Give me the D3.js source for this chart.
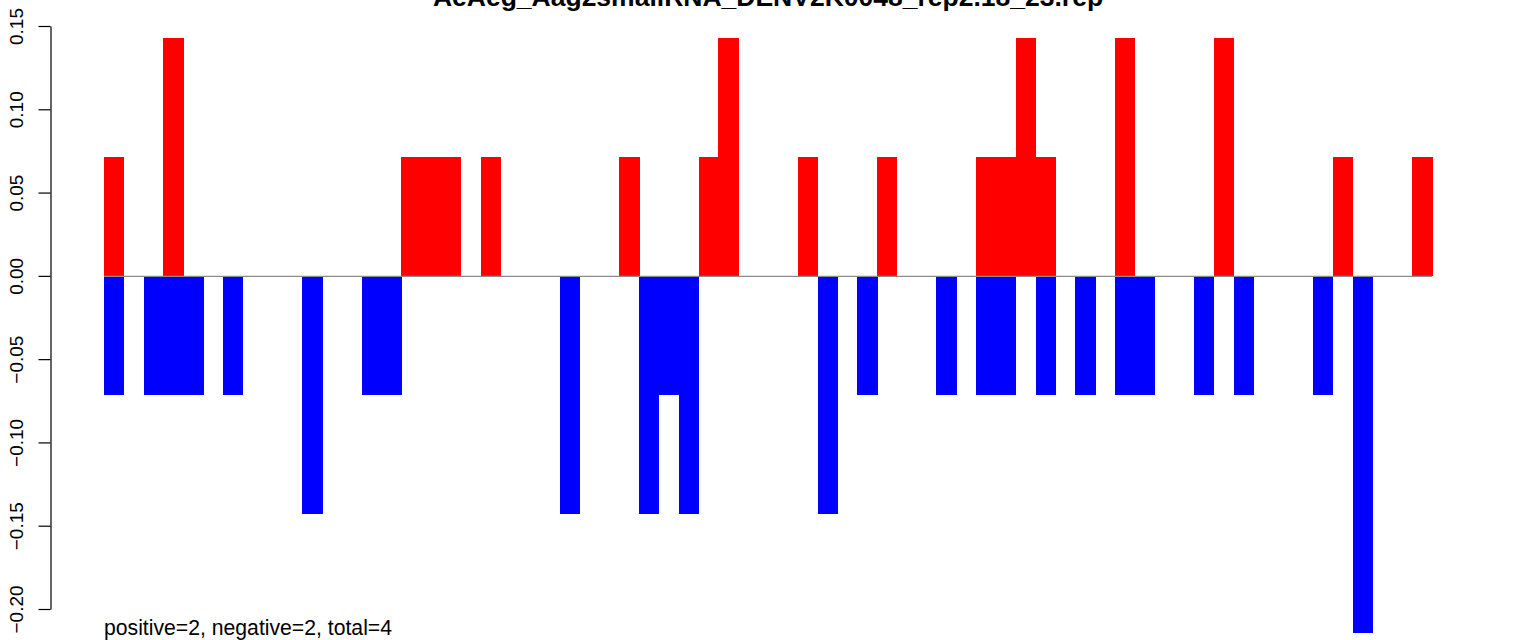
<!DOCTYPE html>
<html>
<head>
<meta charset="utf-8">
<script src="https://cdn.jsdelivr.net/npm/d3@7"></script>
<style>
  html, body { margin: 0; padding: 0; background: #fff; }
  svg { display: block; font-family: "Liberation Sans", Arial, sans-serif; }
</style>
</head>
<body>
<svg id="chart" width="1533" height="640"></svg>
<script>
// ---- data ----
const title = "AeAeg_Aag2smallRNA_DENV2K0048_rep2.18_23.rep";
const footnote = "positive=2, negative=2, total=4";
const positions = d3.range(0, 67); // bar index 0..66
const positiveValues = [
  0.0714, 0, 0, 0.1429, 0, 0, 0, 0, 0, 0,
  0, 0, 0, 0, 0, 0.0714, 0.0714, 0.0714, 0, 0.0714,
  0, 0, 0, 0, 0, 0, 0.0714, 0, 0, 0,
  0.0714, 0.1429, 0, 0, 0, 0.0714, 0, 0, 0, 0.0714,
  0, 0, 0, 0, 0.0714, 0.0714, 0.1429, 0.0714, 0, 0,
  0, 0.1429, 0, 0, 0, 0, 0.1429, 0, 0, 0,
  0, 0, 0.0714, 0, 0, 0, 0.0714
];
const negativeValues = [
  -0.0714, 0, -0.0714, -0.0714, -0.0714, 0, -0.0714, 0, 0, 0,
  -0.1429, 0, 0, -0.0714, -0.0714, 0, 0, 0, 0, 0,
  0, 0, 0, -0.1429, 0, 0, 0, -0.1429, -0.0714, -0.1429,
  0, 0, 0, 0, 0, 0, -0.1429, 0, -0.0714, 0,
  0, 0, -0.0714, 0, -0.0714, -0.0714, 0, -0.0714, 0, -0.0714,
  0, -0.0714, -0.0714, 0, 0, -0.0714, 0, -0.0714, 0, 0,
  0, -0.0714, 0, -0.2143, 0, 0, 0
];
const yTicks = [-0.20, -0.15, -0.10, -0.05, 0.00, 0.05, 0.10, 0.15];

// ---- layout ----
const svg = d3.select("#chart");
const x = d3.scaleLinear().domain([0, positions.length]).range([104, 1432]);
const y = d3.scaleLinear().domain([-0.20, 0.15]).range([609, 26]);

// bars
svg.append("g").attr("shape-rendering", "crispEdges").selectAll("rect")
  .data(positions.filter(i => negativeValues[i] !== 0))
  .join("rect")
  .attr("x", i => x(i))
  .attr("width", i => x(i + 1) - x(i) + 0.5)
  .attr("y", y(0))
  .attr("height", i => y(negativeValues[i]) - y(0))
  .attr("fill", "#0000ff");

svg.append("g").attr("shape-rendering", "crispEdges").selectAll("rect")
  .data(positions.filter(i => positiveValues[i] !== 0))
  .join("rect")
  .attr("x", i => x(i))
  .attr("width", i => x(i + 1) - x(i) + 0.5)
  .attr("y", i => y(positiveValues[i]))
  .attr("height", i => y(0) - y(positiveValues[i]))
  .attr("fill", "#ff0000");

// zero line
svg.append("line")
  .attr("x1", x(0)).attr("x2", x(positions.length))
  .attr("y1", y(0) + 0.5).attr("y2", y(0) + 0.5)
  .attr("stroke", "#8c8c8c").attr("stroke-width", 1.2);

// y axis
const yAxis = d3.axisLeft(y)
  .tickValues(yTicks)
  .tickSize(12)
  .tickSizeOuter(0)
  .tickPadding(0)
  .tickFormat(d => d3.format(".2f")(d).replace("-", "\u2212"));
const ag = svg.append("g").attr("transform", "translate(50.5,0)").call(yAxis);
ag.select(".domain").attr("stroke", "#000").attr("stroke-width", 1.2);
ag.selectAll(".tick line").attr("stroke", "#000").attr("stroke-width", 1.2);
ag.selectAll(".tick text")
  .attr("fill", "#000")
  .attr("font-size", "19px")
  .attr("font-family", "'Liberation Sans', Arial, sans-serif")
  .attr("text-anchor", "middle")
  .attr("x", 0).attr("dy", null).attr("y", 0)
  .attr("transform", "translate(-28,0) rotate(-90)");

// title
svg.append("text")
  .attr("x", 768).attr("y", 6)
  .attr("text-anchor", "middle")
  .attr("font-weight", "bold")
  .attr("font-size", "26.5px")
  .text(title);

// footnote
svg.append("text")
  .attr("x", 104).attr("y", 635)
  .attr("font-size", "21.2px")
  .text(footnote);
</script>
</body>
</html>
